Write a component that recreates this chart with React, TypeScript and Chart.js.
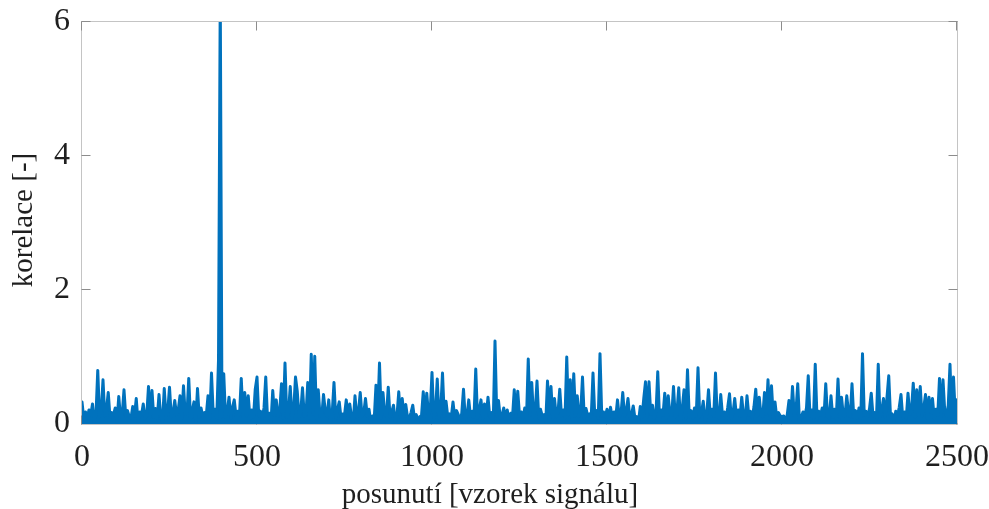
import React, { useEffect, useRef } from 'react';
import { Chart, registerables } from 'chart.js';

Chart.register(...registerables);

// sample spacing of the values below (signal shift, in samples)
const STEP = 5;

// korelace, posunutí 0 … 495
const SEG_0 = [
  0.33, 0.08, 0.18, 0.09, 0.21, 0.13, 0.30, 0.03, 0.14, 0.80,
  0.11, 0.19, 0.66, 0.12, 0.22, 0.47, 0.09, 0.17, 0.14, 0.24,
  0.03, 0.41, 0.10, 0.15, 0.51, 0.11, 0.20, 0.11, 0.09, 0.26,
  0.12, 0.38, 0.03, 0.18, 0.13, 0.30, 0.08, 0.13, 0.56, 0.11,
  0.50, 0.10, 0.23, 0.09, 0.44, 0.10, 0.03, 0.53, 0.12, 0.19,
  0.55, 0.11, 0.16, 0.35, 0.13, 0.21, 0.42, 0.09, 0.57, 0.14,
  0.15, 0.68, 0.08, 0.20, 0.33, 0.03, 0.53, 0.10, 0.24, 0.11,
  0.17, 0.12, 0.42, 0.09, 0.76, 0.13, 0.22, 0.08, 0.95, 6.40,
  0.11, 0.75, 0.10, 0.18, 0.40, 0.09, 0.25, 0.36, 0.12, 0.19,
  0.13, 0.68, 0.11, 0.47, 0.12, 0.42, 0.08, 0.21, 0.10, 0.52,
];

// posunutí 500 … 995
const SEG_1 = [
  0.70, 0.12, 0.19, 0.09, 0.24, 0.70, 0.08, 0.16, 0.03, 0.50,
  0.13, 0.36, 0.11, 0.20, 0.60, 0.09, 0.91, 0.10, 0.17, 0.56,
  0.08, 0.23, 0.70, 0.49, 0.11, 0.18, 0.54, 0.12, 0.14, 0.62,
  0.09, 1.04, 0.14, 1.01, 0.08, 0.51, 0.12, 0.11, 0.44, 0.20,
  0.12, 0.36, 0.03, 0.17, 0.62, 0.08, 0.22, 0.33, 0.09, 0.15,
  0.13, 0.36, 0.11, 0.30, 0.11, 0.03, 0.42, 0.10, 0.19, 0.47,
  0.11, 0.16, 0.38, 0.12, 0.22, 0.03, 0.12, 0.08, 0.58, 0.14,
  0.91, 0.09, 0.47, 0.14, 0.12, 0.55, 0.11, 0.18, 0.28, 0.03,
  0.13, 0.48, 0.10, 0.38, 0.11, 0.29, 0.10, 0.09, 0.17, 0.28,
  0.08, 0.14, 0.03, 0.11, 0.12, 0.48, 0.11, 0.46, 0.14, 0.20,
];

// posunutí 1000 … 1495
const SEG_2 = [
  0.77, 0.08, 0.18, 0.67, 0.09, 0.21, 0.76, 0.12, 0.34, 0.11,
  0.15, 0.10, 0.33, 0.09, 0.20, 0.14, 0.03, 0.16, 0.52, 0.08,
  0.12, 0.36, 0.11, 0.19, 0.10, 0.82, 0.09, 0.22, 0.36, 0.08,
  0.30, 0.13, 0.40, 0.11, 0.17, 0.03, 1.24, 0.12, 0.35, 0.09,
  0.13, 0.24, 0.08, 0.21, 0.03, 0.16, 0.10, 0.51, 0.11, 0.49,
  0.12, 0.18, 0.09, 0.24, 0.08, 0.97, 0.13, 0.62, 0.11, 0.19,
  0.64, 0.09, 0.22, 0.12, 0.14, 0.03, 0.64, 0.14, 0.56, 0.08,
  0.38, 0.11, 0.17, 0.52, 0.12, 0.21, 0.09, 1.00, 0.13, 0.66,
  0.08, 0.75, 0.12, 0.42, 0.11, 0.19, 0.70, 0.09, 0.23, 0.12,
  0.15, 0.11, 0.76, 0.13, 0.20, 0.09, 1.05, 0.12, 0.18, 0.11,
];

// posunutí 1500 … 1995
const SEG_3 = [
  0.22, 0.08, 0.25, 0.09, 0.18, 0.10, 0.36, 0.11, 0.15, 0.47,
  0.12, 0.20, 0.38, 0.09, 0.14, 0.27, 0.08, 0.11, 0.03, 0.26,
  0.10, 0.38, 0.63, 0.11, 0.63, 0.14, 0.28, 0.09, 0.16, 0.78,
  0.08, 0.21, 0.13, 0.46, 0.09, 0.42, 0.14, 0.12, 0.56, 0.11,
  0.19, 0.54, 0.03, 0.23, 0.51, 0.08, 0.81, 0.10, 0.20, 0.09,
  0.24, 0.12, 0.84, 0.11, 0.17, 0.34, 0.03, 0.15, 0.51, 0.13,
  0.22, 0.11, 0.76, 0.10, 0.09, 0.44, 0.12, 0.18, 0.08, 0.25,
  0.45, 0.09, 0.16, 0.38, 0.10, 0.21, 0.11, 0.40, 0.12, 0.08,
  0.42, 0.13, 0.19, 0.09, 0.26, 0.52, 0.12, 0.40, 0.13, 0.11,
  0.47, 0.14, 0.66, 0.08, 0.57, 0.11, 0.33, 0.09, 0.17, 0.12,
];

// posunutí 2000 … 2500
const SEG_4 = [
  0.11, 0.12, 0.03, 0.14, 0.35, 0.08, 0.56, 0.13, 0.20, 0.60,
  0.03, 0.10, 0.18, 0.11, 0.24, 0.72, 0.12, 0.21, 0.09, 0.89,
  0.08, 0.19, 0.13, 0.24, 0.11, 0.60, 0.11, 0.09, 0.42, 0.10,
  0.22, 0.08, 0.67, 0.09, 0.40, 0.14, 0.12, 0.42, 0.18, 0.11,
  0.60, 0.10, 0.20, 0.09, 0.24, 0.08, 1.05, 0.13, 0.19, 0.11,
  0.23, 0.46, 0.12, 0.17, 0.09, 0.89, 0.08, 0.21, 0.38, 0.10,
  0.40, 0.72, 0.11, 0.15, 0.03, 0.19, 0.12, 0.25, 0.44, 0.09,
  0.18, 0.08, 0.46, 0.14, 0.21, 0.61, 0.11, 0.51, 0.13, 0.56,
  0.12, 0.24, 0.44, 0.09, 0.40, 0.17, 0.38, 0.08, 0.22, 0.13,
  0.68, 0.11, 0.66, 0.19, 0.12, 0.28, 0.89, 0.10, 0.70, 0.14,
  0.36,
];

const X_TICKS = [0, 500, 1000, 1500, 2000, 2500];
const Y_TICKS = [0, 2, 4, 6];
const X_TITLE = 'posunutí [vzorek signálu]';
const Y_TITLE = 'korelace [-]';

const LINE_COLOR = '#0072BD';
const TEXT_COLOR = '#1f1f1f';
const FRAME_COLOR = '#c4c4c4';
const TICK_COLOR = '#8c8c8c';
const FONT_FAMILY = '"Liberation Serif", "Times New Roman", serif';

export default function App() {
  const ref = useRef<HTMLCanvasElement>(null);

  useEffect(() => {
    const canvas = ref.current;
    if (!canvas) return;
    const values = [...SEG_0, ...SEG_1, ...SEG_2, ...SEG_3, ...SEG_4];
    const points = values.map((v, i) => ({ x: i * STEP, y: v }));

    const framePlugin = {
      id: 'matlabFrame',
      beforeDatasetsDraw(chart: any) {
        const { ctx, chartArea: a, scales } = chart;
        const xs = scales.x;
        const ys = scales.y;
        const L = Math.round(a.left) - 0.5;
        const R = Math.round(a.right) + 0.5;
        const T = Math.round(a.top) - 0.5;
        const B = Math.round(a.bottom) + 0.5;
        const TL = 9;
        ctx.save();
        ctx.lineWidth = 1;
        ctx.strokeStyle = FRAME_COLOR;
        ctx.strokeRect(L, T, R - L, B - T);
        ctx.strokeStyle = TICK_COLOR;
        ctx.beginPath();
        X_TICKS.forEach((v) => {
          const px = Math.round(xs.getPixelForValue(v)) - 0.5;
          ctx.moveTo(px, B);
          ctx.lineTo(px, B - TL);
          ctx.moveTo(px, T);
          ctx.lineTo(px, T + TL);
        });
        Y_TICKS.forEach((v) => {
          const py = Math.round(ys.getPixelForValue(v)) - 0.5;
          ctx.moveTo(L, py);
          ctx.lineTo(L + TL, py);
          ctx.moveTo(R, py);
          ctx.lineTo(R - TL, py);
        });
        ctx.stroke();
        ctx.restore();
      },
      afterDraw(chart: any) {
        const { ctx, chartArea: a } = chart;
        ctx.save();
        ctx.fillStyle = TEXT_COLOR;
        ctx.font = `29px ${FONT_FAMILY}`;
        ctx.textAlign = 'center';
        ctx.textBaseline = 'alphabetic';
        ctx.fillText(X_TITLE, a.left + 408, chart.height - 6);
        ctx.translate(32, (a.top + a.bottom) / 2 - 3);
        ctx.rotate(-Math.PI / 2);
        ctx.fillText(Y_TITLE, 0, 0);
        ctx.restore();
      },
    };

    const chart = new Chart(canvas, {
      type: 'line',
      data: {
        datasets: [
          {
            data: points,
            borderColor: LINE_COLOR,
            backgroundColor: LINE_COLOR,
            borderWidth: 3,
            pointRadius: 0,
            tension: 0,
            fill: 'origin',
            borderJoinStyle: 'round',
            borderCapStyle: 'round',
            clip: 0,
          },
        ],
      },
      options: {
        animation: false,
        responsive: false,
        events: [],
        layout: { padding: { top: 22, right: 32, left: 0, bottom: 0 } },
        plugins: {
          legend: { display: false },
          tooltip: { enabled: false },
          title: { display: false },
          filler: { propagate: false },
        },
        scales: {
          x: {
            type: 'linear',
            min: 0,
            max: 2500,
            afterBuildTicks: (s: any) => {
              s.ticks = X_TICKS.map((v) => ({ value: v }));
            },
            afterFit: (s: any) => {
              s.height = 85;
              s.paddingLeft = 0;
              s.paddingRight = 0;
            },
            grid: { display: false, drawTicks: false },
            border: { display: false },
            ticks: {
              padding: 14,
              maxRotation: 0,
              autoSkip: false,
              color: TEXT_COLOR,
              font: { family: FONT_FAMILY, size: 32 },
              callback: (v: any) => String(v),
            },
          },
          y: {
            type: 'linear',
            min: 0,
            max: 6,
            afterBuildTicks: (s: any) => {
              s.ticks = Y_TICKS.map((v) => ({ value: v }));
            },
            afterFit: (s: any) => {
              s.width = 82;
              s.paddingTop = 0;
              s.paddingBottom = 0;
            },
            grid: { display: false, drawTicks: false },
            border: { display: false },
            ticks: {
              padding: 12,
              autoSkip: false,
              color: TEXT_COLOR,
              font: { family: FONT_FAMILY, size: 32 },
              callback: (v: any) => String(v),
            },
          },
        },
      },
      plugins: [framePlugin],
    } as any);

    return () => chart.destroy();
  }, []);

  return (
    <div
      style={{
        position: 'fixed',
        left: 0,
        top: 0,
        width: 989,
        height: 509,
        background: '#ffffff',
      }}
    >
      <canvas ref={ref} width={989} height={509} style={{ display: 'block' }} />
    </div>
  );
}
